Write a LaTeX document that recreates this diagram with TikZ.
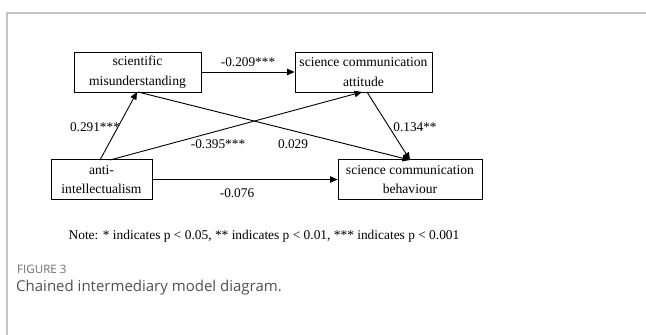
\documentclass[tikz,border=0pt]{standalone}
\usepackage{fontspec}
\setmainfont{Liberation Serif}
\newfontfamily\capfont{Open Sans}
\usetikzlibrary{arrows.meta}
\definecolor{framegray}{HTML}{C4C4C4}
\definecolor{capgray}{HTML}{6E6E6E}
\definecolor{captext}{HTML}{505050}
\tikzset{
  varbox/.style={draw, line width=0.9pt, minimum height=40pt, align=center, inner sep=0pt,
    font=\fontsize{13.6}{19.5}\selectfont},
  pathlab/.style={font=\fontsize{13.3}{16}\selectfont, inner sep=0pt},
  arr/.style={-{Triangle[length=7.5pt,width=6.5pt]}, line width=0.9pt}
}
\begin{document}
\begin{tikzpicture}[x=1pt,y=-1pt]
\useasboundingbox (0,0) rectangle (646,335);
\draw[framegray, line width=1.5pt] (7,335) -- (7,13) -- (646,13);
\node[varbox, minimum width=127pt] (sm) at (137.5,72) {scientific\\misunderstanding};
\node[varbox, minimum width=137pt] (sca) at (363.5,72) {science communication\\attitude};
\node[varbox, minimum width=101pt] (ai) at (101.5,179.5) {anti-\\intellectualism};
\node[varbox, minimum width=144pt] (scb) at (410,179.5) {science communication\\behaviour};
\coordinate (aiA) at (100,160);
\coordinate (aiB) at (110,160);
\coordinate (smA) at (137,92);
\coordinate (smB) at (138,92);
\coordinate (scaA) at (362,92);
\coordinate (scaB) at (367,92);
\coordinate (scbA) at (410,160);
\draw[arr] (sm.east) -- (sca.west);
\draw[arr] (aiA) -- (smA);
\draw[arr] (aiB) -- (scaA);
\draw[arr] (smB) -- (scbA);
\draw[arr] (scaB) -- (scbA);
\draw[arr] (ai.east) -- (scb.west);
\node[pathlab] (l1) at (248,62) {-0.209***};
\node[pathlab] (l2) at (95,127) {0.291***};
\node[pathlab] (l3) at (218,144) {-0.395***};
\node[pathlab] (l4) at (293,144) {0.029};
\node[pathlab] (l5) at (415,127) {0.134**};
\node[pathlab] (l6) at (237,193) {-0.076};
\node[font=\fontsize{13.4}{15}\selectfont, inner sep=0pt] (note) at (264,236) {Note: * indicates p < 0.05, ** indicates p < 0.01, *** indicates p < 0.001};
\node[anchor=west, text=capgray, font=\capfont\fontsize{11.6}{13}\selectfont, inner sep=0pt] (fig) at (17,269) {FIGURE 3};
\node[anchor=west, text=captext, font=\capfont\fontsize{15}{17}\selectfont, inner sep=0pt] (cap) at (16,288) {Chained intermediary model diagram.};
\end{tikzpicture}
\end{document}
